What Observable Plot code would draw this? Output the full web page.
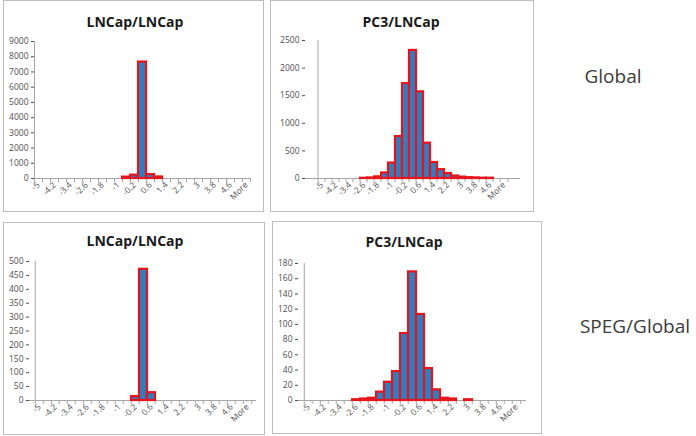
<!DOCTYPE html>
<html><head><meta charset="utf-8">
<script src="https://cdn.jsdelivr.net/npm/d3@7"></script>
<script src="https://cdn.jsdelivr.net/npm/@observablehq/plot@0.6"></script>
<style>
body{margin:0;background:#fff;font-family:"Open Sans",sans-serif;}
#page{position:relative;width:696px;height:436px;overflow:hidden;background:#fff;}
.panel{position:absolute;border:1px solid #bdbdbd;box-sizing:border-box;}
.title{position:absolute;font-weight:bold;font-size:14px;color:#1a1a1a;transform:translate(-50%,-50%);white-space:nowrap;}
.side{position:absolute;font-size:19px;color:#3a3a3a;transform:translate(-50%,-50%);white-space:nowrap;}
.chart{position:absolute;}
</style></head><body><div id="page"></div>
<script>
// Histogram bin labels (upper bounds), every other one shown on the axis
const bins = ["-5","-4.6","-4.2","-3.8","-3.4","-3","-2.6","-2.2","-1.8","-1.4","-1","-0.6","-0.2","0.2","0.6","1","1.4","1.8","2.2","2.6","3","3.4","3.8","4.2","4.6","5","More"];

// Global, LNCap/LNCap
const lnGlobal = [0,0,0,0,0,0,0,0,0,0,0,90,220,7650,260,100,0,0,0,0,0,0,0,0,0,0,0];
// Global, PC3/LNCap
const pcGlobal = [0,0,0,0,0,0,4,10,30,100,280,760,1720,2320,1570,640,290,160,90,45,25,15,10,5,5,0,0];
// SPEG/Global, LNCap/LNCap
const lnSpeg = [0,0,0,0,0,0,0,0,0,0,0,0,14,472,28,0,0,0,0,0,0,0,0,0,0,0,0];
// SPEG/Global, PC3/LNCap
const pcSpeg = [0,0,0,0,0,0,1,2,3,11,24,38,88,169,113,42,14,3,2,0,1,0,0,0,0,0,0];

const titles = ["LNCap/LNCap","PC3/LNCap","LNCap/LNCap","PC3/LNCap"];
const rowLabels = ["Global","SPEG/Global"];
const yMaxes = [9000,2500,500,180];
const ySteps = [1000,500,50,20];

const page = document.getElementById("page");
const AXIS = "#a6a6a6";

function hist(values, yMax, yStep, b) {
  const data = bins.map((bin, i) => ({bin, v: values[i]})).filter(d => d.v > 0);
  const pw = b.w - b.ml - b.mr, ph = b.h - b.mt - b.mb;
  const bw = pw / bins.length;
  return Plot.plot({
    width: b.w, height: b.h,
    marginLeft: b.ml, marginRight: b.mr, marginTop: b.mt, marginBottom: b.mb,
    style: {fontFamily: "Open Sans, sans-serif", fontSize: "8.5px", color: "#4d4d4d", background: "transparent", overflow: "visible"},
    x: {type: "band", domain: bins, padding: 0, label: null, tickSize: 0, tickPadding: 5, tickRotate: -45,
        tickFormat: d => bins.indexOf(d) % 2 === 0 ? d : ""},
    y: {domain: [0, yMax], ticks: d3.range(0, yMax + 1, yStep), tickFormat: d3.format("d"), tickSize: 3, tickPadding: 3, label: null},
    marks: [
      Plot.ruleX([bins[0]], {dx: -bw / 2, stroke: AXIS}),
      Plot.ruleX(bins, {dx: -bw / 2, insetTop: ph, insetBottom: -4, stroke: AXIS}),
      Plot.ruleX([bins[bins.length - 1]], {dx: bw / 2, insetTop: ph, insetBottom: -4, stroke: AXIS}),
      Plot.ruleY([0], {stroke: AXIS}),
      Plot.barY(data, {x: "bin", y: "v", fill: "#2f7ec1", stroke: "#e8141c", strokeWidth: 2.2})
    ]
  });
}

const panels = [
  {box: [3, 0, 261, 212], svg: {x: 3, y: 0, w: 261, h: 211, ml: 31, mr: 14, mt: 41, mb: 33}, title: [135, 21]},
  {box: [270, 0, 264, 212], svg: {x: 270, y: 0, w: 264, h: 211, ml: 35, mr: 14, mt: 40, mb: 33}, title: [401, 21]},
  {box: [3, 222, 262, 213], svg: {x: 3, y: 222, w: 262, h: 212, ml: 26, mr: 9, mt: 39, mb: 34}, title: [135, 240]},
  {box: [272, 221, 270, 213], svg: {x: 272, y: 221, w: 270, h: 212, ml: 26, mr: 16, mt: 42, mb: 33}, title: [404, 241]}
];
const series = [lnGlobal, pcGlobal, lnSpeg, pcSpeg];

panels.forEach((p, k) => {
  const box = document.createElement("div");
  box.className = "panel";
  Object.assign(box.style, {left: p.box[0] + "px", top: p.box[1] + "px", width: p.box[2] + "px", height: p.box[3] + "px"});
  page.appendChild(box);
  const chart = hist(series[k], yMaxes[k], ySteps[k], p.svg);
  chart.classList.add("chart");
  chart.style.left = p.svg.x + "px";
  chart.style.top = p.svg.y + "px";
  page.appendChild(chart);
  const t = document.createElement("div");
  t.className = "title";
  t.textContent = titles[k];
  t.style.left = p.title[0] + "px";
  t.style.top = p.title[1] + "px";
  page.appendChild(t);
});

const sidePos = [[613, 76], [635, 326]];
rowLabels.forEach((s, k) => {
  const d = document.createElement("div");
  d.className = "side";
  d.textContent = s;
  d.style.left = sidePos[k][0] + "px";
  d.style.top = sidePos[k][1] + "px";
  page.appendChild(d);
});
</script>
</body></html>
